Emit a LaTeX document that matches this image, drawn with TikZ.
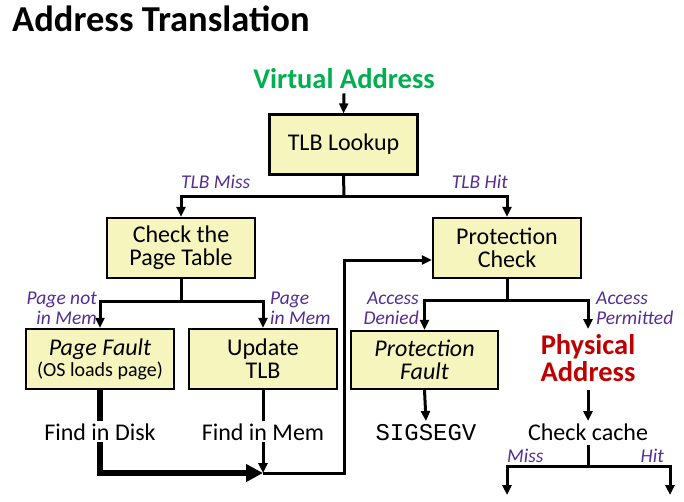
\documentclass[tikz,border=0pt]{standalone}
\usepackage{fontspec}
\setmainfont{Carlito}
\newfontfamily\monofnt{Liberation Mono}
\usetikzlibrary{arrows.meta}
\definecolor{boxfill}{RGB}{246,245,190}
\definecolor{lblpurple}{RGB}{84,46,148}
\definecolor{vgreen}{RGB}{0,176,80}
\definecolor{pred}{RGB}{192,0,0}
\tikzset{
  stepbox/.style={draw=black, line width=2.2pt, fill=boxfill, minimum width=148pt, minimum height=60pt, align=center, inner sep=0pt, font=\fontsize{24}{23}\selectfont},
  conn/.style={line width=3pt, -{Triangle[length=10pt,width=9pt]}},
  plain/.style={line width=3pt},
  bigconn/.style={line width=6pt, -{Triangle[length=17pt,width=17pt]}},
  lbl/.style={text=lblpurple, inner sep=0pt, font=\fontsize{19.5}{20}\selectfont\itshape},
  plaintext/.style={inner sep=0pt, font=\fontsize{24}{24}\selectfont},
}
\begin{document}
\begin{tikzpicture}[x=1pt,y=-1pt]
\useasboundingbox (0,0) rectangle (684,501);
\fill[white] (0,0) rectangle (684,501);

\node[anchor=base west, inner sep=0pt, font=\fontsize{36.5}{40}\selectfont\bfseries] (title) at (12,31) {Address Translation};

\node[anchor=base, inner sep=0pt, text=vgreen, font=\fontsize{28.5}{28}\selectfont\bfseries] (va) at (344,88) {Virtual Address};

\node[stepbox] (tlb) at (343.5,144.5) {TLB Lookup};
\node[stepbox] (ptab) at (181,248) {Check the\\Page Table};
\node[stepbox] (prot) at (507,248) {Protection\\Check};
\node[stepbox] (pf) at (100,359) {\textit{Page Fault}\\[-2pt]{\fontsize{20}{20}\selectfont (OS loads page)}};
\node[stepbox] (ut) at (263,359) {Update\\TLB};
\node[stepbox, minimum width=147pt, minimum height=58pt] (pfault) at (424.5,360) {\itshape Protection\\\itshape Fault};

\node[inner sep=0pt, text=pred, align=center, font=\fontsize{28.5}{27}\selectfont\bfseries] (pa) at (588,358) {Physical\\Address};

% connectors top
\draw[conn] ([yshift=-5pt]va.south) -- (tlb.north);
\coordinate (j1) at (344,196);
\draw[plain] (tlb.south) -- (j1);
\draw[conn] (j1) -| (ptab.north);
\draw[conn] (j1) -| (prot.north);

\coordinate (j2) at (181,301);
\draw[plain] (ptab.south) -- (j2);
\draw[conn] (j2) -| (pf.north);
\draw[conn] (j2) -| (ut.north);

\coordinate (j3) at (507,300);
\coordinate (patop) at (588,329);
\draw[plain] (prot.south) -- (j3);
\draw[conn] (j3) -| (pfault.north);
\draw[conn] (j3) -| (patop);

% labels
\node[lbl, anchor=base west] (lmiss) at (181,188) {TLB Miss};
\node[lbl, anchor=base east] (lhit) at (508,188) {TLB Hit};
\node[lbl, anchor=south east, align=right] (lpnm) at (97,325) {Page not\\in Mem};
\node[lbl, anchor=south west, align=left] (lpim) at (270,325) {Page\\in Mem};
\node[lbl, anchor=south east, align=right] (lden) at (419,325) {Access\\Denied};
\node[lbl, anchor=south west, align=left] (lperm) at (596,325) {Access\\Permitted};

% bottom left
\coordinate (m) at (263,473);
\coordinate (c1) at (344,473);
\draw[line width=6pt] (pf.south) -- (100,473) -- ([xshift=-14pt]m);
\draw[bigconn] (100,473) -- (m);
\draw[conn] (ut.south) -- (m);
\draw[conn] (m) -- (c1) |- ([yshift=-12pt]prot.west);

\node[plaintext, fill=white, anchor=base, inner ysep=2pt, inner xsep=0pt] (fid) at (100,440) {Find in Disk};
\node[plaintext, fill=white, anchor=base, inner ysep=2pt, inner xsep=0pt] (fim) at (263,440) {Find in Mem};

% right bottom
\node[plaintext, anchor=base, font=\fontsize{24}{24}\selectfont\monofnt] (sig) at (426,440) {SIGSEGV};
\coordinate (sigtop) at (426,421);
\draw[conn] (pfault.south) -- (sigtop);

\node[plaintext, anchor=base] (cc) at (588,440) {Check cache};
\coordinate (pab) at (588,390);
\coordinate (cctop) at (588,421);
\draw[conn] (pab) -- (cctop);

\coordinate (ccb) at (588,445);
\coordinate (j4) at (588,466);
\coordinate (missend) at (507,495);
\coordinate (hitend) at (670,495);
\draw[plain] (ccb) -- (j4);
\draw[conn] (j4) -| (missend);
\draw[conn] (j4) -| (hitend);
\node[lbl, anchor=base west] (lmiss2) at (507,462) {Miss};
\node[lbl, anchor=base east] (lhit2) at (664,462) {Hit};
\end{tikzpicture}
\end{document}
